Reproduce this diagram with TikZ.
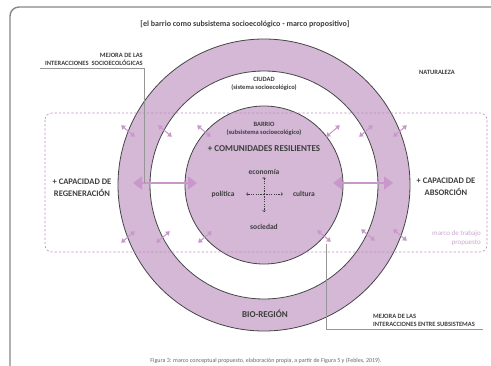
\documentclass[tikz,border=0pt]{standalone}
\usepackage{fontspec}
\setmainfont{Carlito}
\usetikzlibrary{arrows.meta,calc}
\definecolor{ringfill}{RGB}{212,184,214}
\definecolor{arrcol}{RGB}{200,152,202}
\definecolor{edgecol}{RGB}{70,70,70}
\definecolor{txtcol}{RGB}{62,62,62}
\definecolor{callcol}{RGB}{150,150,150}
\definecolor{framecol}{RGB}{135,135,135}
\definecolor{dashcol}{RGB}{192,140,196}
\definecolor{notecol}{RGB}{205,165,208}
\tikzset{
  lab/.style={text=txtcol, inner sep=0pt, align=center, font=\fontsize{6.5}{7.8}\selectfont\bfseries},
  biglab/.style={text=txtcol, inner sep=0pt, align=center, font=\fontsize{8.5}{12}\selectfont\bfseries},
  midlab/.style={text=txtcol, inner sep=0pt, align=center, font=\fontsize{7.5}{8}\selectfont\bfseries},
  ringedge/.style={draw=edgecol, line width=0.8pt},
  smallarr/.style={draw=arrcol, line width=1pt, {Triangle[width=5pt,length=4pt]}-{Triangle[width=5pt,length=4pt]}},
  bigarr/.style={draw=arrcol, line width=1.4pt, {Triangle[width=13pt,length=9pt]}-{Triangle[width=13pt,length=9pt]}},
  callline/.style={draw=callcol, line width=0.9pt},
  crossarr/.style={draw=txtcol, line width=0.5pt, dash pattern=on 1.2pt off 1.2pt, -{Straight Barb[length=1.6pt,width=3pt]}},
}
\begin{document}
\begin{tikzpicture}[x=1pt,y=-1pt]
\useasboundingbox (0,0) rectangle (491,365);
\clip (0,0) rectangle (491,365);
\fill[white] (0,0) rectangle (491,365);
% frame
\draw[draw=framecol, line width=1.4pt, rounded corners=9pt] (500,7) -- (10,7) -- (10,375);
% title
\node[biglab, font=\fontsize{8}{9}\selectfont\bfseries] (title) at (245,24) {[el barrio como subsistema socioecológico - marco propositivo]};
% rings
\coordinate (c) at (264,185);
\fill[ringfill] (c) circle[radius=146];
\fill[white] (c) circle[radius=114];
\fill[ringfill] (c) circle[radius=79];
\draw[ringedge] (c) circle[radius=146];
\draw[ringedge] (c) circle[radius=114];
\draw[ringedge] (c) circle[radius=79];
% dashed frame
\draw[draw=dashcol, line width=0.6pt, dash pattern=on 2.2pt off 2pt, rounded corners=7pt] (45,113) rectangle (487,252);
% small radial arrows
\foreach \px/\py/\a in {128/131/40, 165/131/40, 204/131/40,
                        333/131/-40, 366/131/-40, 400/131/-40,
                        128/237/-40, 163/237/-40, 205/237/-40,
                        324/236/40, 368/235/40, 400/235/40}{
  \draw[smallarr] ($(\px,\py)+(\a:-9)$) -- ($(\px,\py)+(\a:9)$);
}
% big arrows
\coordinate (la1) at (133,183);
\coordinate (la2) at (197,183);
\coordinate (ra1) at (333,183);
\coordinate (ra2) at (393,183);
\draw[bigarr] (la1) -- (la2);
\draw[bigarr] (ra1) -- (ra2);
% callout left
\coordinate (cl1) at (40,68);
\coordinate (cl2) at (144,68);
\coordinate (cl3) at (144,183);
\draw[callline] (cl1) -- (cl2) -- (cl3);
\node[lab, align=right, anchor=south east] (mejora1) at (143,66) {MEJORA DE LAS\\INTERACCIONES\ \ SOCIOECOLÓGICAS};
% callout right
\coordinate (cr1) at (326,244);
\coordinate (cr2) at (326,329);
\coordinate (cr3) at (483,329);
\draw[callline] (cr1) -- (cr2) -- (cr3);
\node[lab, align=left, anchor=south west] (mejora2) at (373,327) {MEJORA DE LAS\\INTERACCIONES ENTRE SUBSISTEMAS};
% labels
\node[lab] (nat) at (437,72) {NATURALEZA};
\node[lab] (ciudad) at (264,84) {CIUDAD\\(sistema socioecológico)};
\node[lab] (barrio) at (264,129) {BARRIO\\(subsistema socioecológico)};
\node[biglab, font=\fontsize{9}{10}\selectfont\bfseries] (com) at (264,149) {+ COMUNIDADES RESILIENTES};
\node[midlab] (eco) at (264,172) {economía};
\node[midlab] (pol) at (223,194) {política};
\node[midlab] (cul) at (304,194) {cultura};
\node[midlab] (soc) at (264,227) {sociedad};
% dotted cross
\coordinate (x0) at (264,194);
\coordinate (xl) at (246,194);
\coordinate (xr) at (283,194);
\coordinate (xt) at (264,177);
\coordinate (xb) at (264,212);
\draw[crossarr] (x0) -- (xl);
\draw[crossarr] (x0) -- (xr);
\draw[crossarr] (x0) -- (xt);
\draw[crossarr] (x0) -- (xb);
\node[biglab] (regen) at (82,188) {+ CAPACIDAD DE\\REGENERACIÓN};
\node[biglab] (absor) at (446,187) {+ CAPACIDAD DE\\ABSORCIÓN};
\node[biglab, font=\fontsize{9}{10}\selectfont\bfseries] (bio) at (265,314) {BIO-REGIÓN};
\node[inner sep=0pt, align=right, anchor=east, text=notecol, font=\fontsize{7}{8.5}\selectfont] (marco) at (481,238) {marco de trabajo\\propuesto};
\node[inner sep=0pt, text=black!60, font=\fontsize{6}{7}\selectfont] (cap) at (266,361) {Figura 3: marco conceptual propuesto, elaboración propia, a partir de Figura 5 y (Febles, 2019).};
\end{tikzpicture}
\end{document}
